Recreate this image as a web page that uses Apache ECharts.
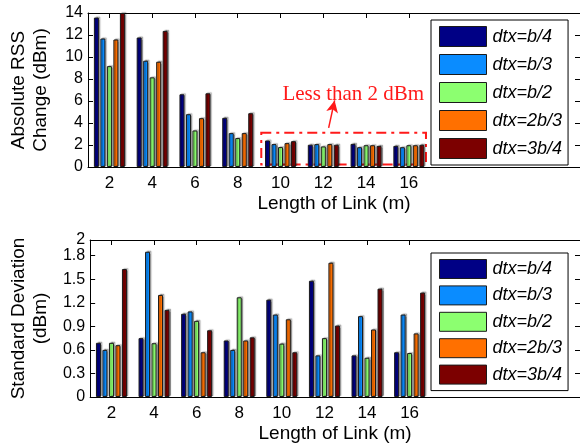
<!DOCTYPE html>
<html>
<head>
<meta charset="utf-8">
<script src="https://cdn.jsdelivr.net/npm/echarts@6/dist/echarts.min.js"></script>
<style>html,body{margin:0;padding:0;background:#fff}#c{width:580px;height:448px}</style>
</head>
<body>
<div id="c"></div>
<script>
// Link lengths (m)
const lengths = [2, 4, 6, 8, 10, 12, 14, 16];
const seriesNames = ['dtx=b/4', 'dtx=b/3', 'dtx=b/2', 'dtx=2b/3', 'dtx=3b/4'];
const colors = ['#000085', '#0a8cff', '#8cff70', '#ff7000', '#7c0000'];

// Absolute RSS change (dBm)
const rssB4  = [13.58, 11.77, 6.61, 4.47, 2.41, 2.02, 2.10, 1.92];
const rssB3  = [11.68, 9.66, 4.80, 3.08, 2.08, 2.08, 1.80, 1.80];
const rssB2  = [9.17, 8.15, 3.32, 2.63, 1.81, 1.87, 1.98, 1.98];
const rss2B3 = [11.59, 9.57, 4.44, 3.08, 2.17, 2.08, 1.98, 1.98];
const rss3B4 = [14.0, 12.37, 6.70, 4.89, 2.35, 2.02, 1.92, 2.02];

// Standard deviation (dBm)
const sdB4  = [0.69, 0.75, 1.06, 0.72, 1.24, 1.48, 0.53, 0.57];
const sdB3  = [0.60, 1.85, 1.09, 0.60, 1.05, 0.53, 1.03, 1.05];
const sdB2  = [0.69, 0.685, 0.97, 1.27, 0.68, 0.75, 0.50, 0.56];
const sd2B3 = [0.66, 1.30, 0.57, 0.72, 0.99, 1.71, 0.86, 0.81];
const sd3B4 = [1.63, 1.11, 0.85, 0.76, 0.57, 0.91, 1.38, 1.33];

// Tick labels
const rssTicks = [0, 2, 4, 6, 8, 10, 12, 14];
const sdTicks = [0, 0.3, 0.6, 0.9, 1.2, 1.5, 1.8, 2];

const rssSets = [rssB4, rssB3, rssB2, rss2B3, rss3B4];
const sdSets = [sdB4, sdB3, sdB2, sd2B3, sd3B4];

const FONT = "'Liberation Sans', Arial, Helvetica, sans-serif";

function xAxes(gridIndex) {
  return [{
    type: 'value', gridIndex: gridIndex, position: 'bottom', min: 1, max: 24,
    name: 'Length of Link (m)', nameLocation: 'middle', nameGap: 27,
    nameTextStyle: { color: '#000', fontSize: 19, fontFamily: FONT },
    axisLine: { show: true, onZero: false, lineStyle: { color: '#000', width: 1 } },
    axisTick: { show: true, inside: true, length: 5, customValues: lengths, lineStyle: { color: '#000' } },
    axisLabel: { color: '#000', fontSize: 17, fontFamily: FONT, margin: 8, customValues: lengths },
    splitLine: { show: false }
  }, {
    type: 'value', gridIndex: gridIndex, position: 'top', min: 1, max: 24,
    axisLine: { show: true, onZero: false, lineStyle: { color: '#000', width: 1 } },
    axisTick: { show: true, inside: true, length: 5, customValues: lengths, lineStyle: { color: '#000' } },
    axisLabel: { show: false },
    splitLine: { show: false }
  }];
}

function yAxes(gridIndex, max, ticks, labels, name) {
  return [{
    type: 'value', gridIndex: gridIndex, position: 'left', min: 0, max: max,
    name: name, nameLocation: 'middle', nameGap: 36, nameRotate: 90,
    nameTextStyle: { color: '#000', fontSize: 19, fontFamily: FONT, lineHeight: 22, align: 'center' },
    axisLine: { show: true, lineStyle: { color: '#000', width: 1 } },
    axisTick: { show: true, inside: true, length: 5, customValues: ticks, lineStyle: { color: '#000' } },
    axisLabel: { color: '#000', fontSize: 16, fontFamily: FONT, margin: 5, customValues: labels,
      showMinLabel: true, showMaxLabel: true },
    splitLine: { show: false }
  }, {
    type: 'value', gridIndex: gridIndex, position: 'right', min: 0, max: max,
    axisLine: { show: true, lineStyle: { color: '#000', width: 1 } },
    axisTick: { show: true, inside: true, length: 5, customValues: ticks, lineStyle: { color: '#000' } },
    axisLabel: { show: false },
    splitLine: { show: false }
  }];
}

// extra label-only axis for the crowded top label of the lower chart
const sdTopLabelAxis = {
  type: 'value', gridIndex: 1, position: 'left', min: 0, max: 2,
  axisLine: { show: false }, axisTick: { show: false }, splitLine: { show: false },
  axisLabel: { color: '#000', fontSize: 16, fontFamily: FONT, margin: 5,
    customValues: sdTicks.slice(-1), showMaxLabel: true }
};

const series = [];
function addSeries(sets, gridIndex) {
  sets.forEach(function (vals, i) {
    series.push({
      type: 'bar', name: seriesNames[i],
      xAxisIndex: gridIndex * 2, yAxisIndex: gridIndex * 2,
      data: lengths.map(function (x, k) { return [x, vals[k]]; }),
      barWidth: 5, barGap: '30%',
      itemStyle: {
        color: colors[i], borderColor: '#1a1a1a', borderWidth: 1,
        shadowColor: 'rgba(0,0,0,0.3)', shadowOffsetX: 1.5, shadowOffsetY: -1, shadowBlur: 1
      },
      emphasis: { disabled: true },
      animation: false
    });
  });
}
addSeries(rssSets, 0);
addSeries(sdSets, 1);

// Annotation on the top chart (data coordinates)
series.push({
  type: 'line', xAxisIndex: 0, yAxisIndex: 0, data: [], silent: true, animation: false,
  markArea: {
    silent: true,
    itemStyle: { color: 'rgba(0,0,0,0)', borderColor: '#ff1a1a', borderWidth: 2, borderType: [10, 5, 3, 5] },
    data: [[{ coord: [9.1, 3.12] }, { coord: [16.8, 0.22] }]]
  },
  markLine: {
    silent: true, symbol: ['none', 'arrow'], symbolSize: [9, 12],
    lineStyle: { color: '#ff1a1a', width: 1.5, type: 'solid' },
    label: { show: false },
    data: [[{ coord: [12.25, 3.55] }, { coord: [12.53, 6.05] }]]
  },
  markPoint: {
    silent: true, symbol: 'circle', symbolSize: 0,
    label: { show: true, formatter: 'Less than 2 dBm', color: '#ff1a1a', fontSize: 21,
      fontFamily: "'Liberation Serif', 'Times New Roman', serif", position: 'inside' },
    data: [{ coord: [13.4, 6.55] }]
  }
});

const legendCommon = {
  orient: 'vertical', icon: 'rect', left: 431,
  itemWidth: 47, itemGap: 7,
  backgroundColor: '#fff', borderColor: '#000', borderWidth: 1,
  textStyle: { color: '#000', fontSize: 18, fontStyle: 'italic', fontFamily: FONT, lineHeight: 19, padding: [0, 0, 0, 1] },
  itemStyle: { borderColor: '#1a1a1a', borderWidth: 1, shadowBlur: 0, shadowOffsetX: 0, shadowOffsetY: 0 },
  selectedMode: false,
  data: seriesNames
};

const option = {
  backgroundColor: '#fff',
  animation: false,
  grid: [
    { left: 87, top: 13, right: -4, height: 154 },
    { left: 87, top: 240, right: -4, height: 157 }
  ],
  xAxis: xAxes(0).concat(xAxes(1)),
  yAxis: yAxes(0, 14, rssTicks, rssTicks, 'Absolute RSS\nChange (dBm)')
    .concat(yAxes(1, 2, sdTicks, sdTicks.slice(0, -1), 'Standard Deviation\n(dBm)'))
    .concat([sdTopLabelAxis]),
  legend: [
    Object.assign({}, legendCommon, { top: 20, itemHeight: 20, padding: [6, 6, 6, 8] }),
    Object.assign({}, legendCommon, { top: 253, itemHeight: 19, itemGap: 6.4, padding: [6, 6, 6, 8] })
  ],
  series: series
};

const chart = echarts.init(document.getElementById('c'), null, { renderer: 'canvas' });
chart.setOption(option);
</script>
</body>
</html>
